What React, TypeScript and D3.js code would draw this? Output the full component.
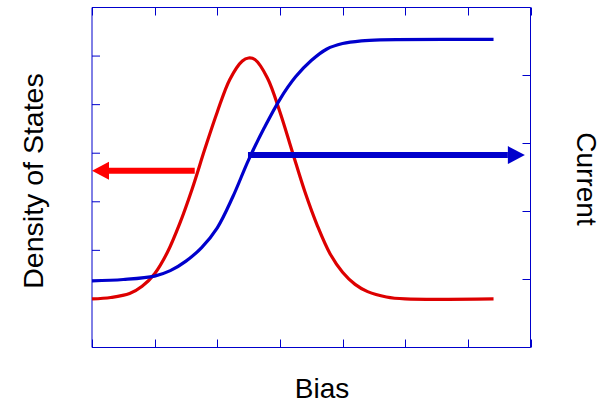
import React from "react";
import * as d3 from "d3";

// Bias axis ticks and the two vertical axes' tick positions
const biasTicks = [0, 1, 2, 3, 4, 5, 6, 7];
const dosTicks = [0, 1, 2, 3, 4, 5, 6, 7];
const currentTicks = [0, 1, 2, 3, 4, 5];

// Density of states (left axis) versus bias
const dosBias = [0, 0.3, 0.6, 0.8, 1.0, 1.2, 1.4, 1.6, 1.8, 2.0, 2.2, 2.4, 2.5, 2.6, 2.8, 3.0, 3.2, 3.4, 3.6, 3.8, 4.0, 4.2, 4.4, 4.7, 5.0, 6.41];
const dosValues = [1.0, 1.03, 1.11, 1.26, 1.52, 1.95, 2.55, 3.27, 4.08, 4.85, 5.52, 5.9, 5.96, 5.93, 5.55, 4.85, 4.02, 3.2, 2.5, 1.93, 1.55, 1.3, 1.15, 1.04, 1.0, 1.0];

// Current (right axis) versus bias
const currentBias = [0, 0.5, 1.0, 1.25, 1.5, 1.75, 2.0, 2.25, 2.5, 2.75, 3.0, 3.25, 3.5, 3.75, 4.0, 4.3, 4.6, 6.41];
const currentValues = [0.98, 1.0, 1.05, 1.13, 1.27, 1.47, 1.76, 2.22, 2.76, 3.23, 3.65, 3.98, 4.22, 4.39, 4.47, 4.51, 4.525, 4.53];

// Arrows pointing each curve to its axis
const dosArrow = { from: 1.64, to: 0, level: 3.64 };
const currentArrow = { from: 2.49, to: 6.91, level: 2.83 };

const W = 606;
const H = 403;
const left = 92;
const right = 530.5;
const top = 7.5;
const bottom = 347.5;

const RED = "#dd0000";
const BLUE = "#0000cc";
const AXIS = "#0000cc";

export default function App() {
  const x = d3.scaleLinear().domain([0, 7]).range([left, right]);
  const yL = d3.scaleLinear().domain([0, 7]).range([bottom, top]);
  const yR = d3.scaleLinear().domain([0, 5]).range([bottom, top]);

  const dosLine = d3
    .line<number>()
    .x((_, i) => x(dosBias[i]))
    .y((d) => yL(d))
    .curve(d3.curveCatmullRom.alpha(0.5))(dosValues) as string;

  const curLine = d3
    .line<number>()
    .x((_, i) => x(currentBias[i]))
    .y((d) => yR(d))
    .curve(d3.curveCatmullRom.alpha(0.5))(currentValues) as string;

  const tick = 8;
  const head = 17;
  const half = 9;

  const arrow = (x0: number, x1: number, y: number, color: string) => {
    const dir = x1 > x0 ? 1 : -1;
    const base = x1 - dir * head;
    return (
      <g>
        <line x1={x0} x2={base} y1={y} y2={y} stroke={color} strokeWidth={6} />
        <path d={`M${x1},${y} L${base},${y - half} L${base},${y + half} Z`} fill={color} />
      </g>
    );
  };

  return (
    <svg
      width={W}
      height={H}
      style={{ position: "absolute", left: 0, top: 0, background: "#fff" }}
      fontFamily="'Liberation Sans', Arial, sans-serif"
    >
      {/* frame */}
      <line x1={left} x2={right} y1={top} y2={top} stroke={AXIS} strokeWidth={1.2} />
      <line x1={left} x2={right} y1={bottom} y2={bottom} stroke={AXIS} strokeWidth={1.2} />
      <line x1={left} x2={left} y1={top} y2={bottom} stroke={AXIS} strokeWidth={1} />
      <line x1={right} x2={right} y1={top} y2={bottom} stroke={AXIS} strokeWidth={1} />

      {/* bias ticks on top and bottom, pointing inward */}
      {biasTicks.map((t) => (
        <g key={`b${t}`}>
          <line x1={Math.round(x(t)) + 0.5} x2={Math.round(x(t)) + 0.5} y1={top} y2={top + tick} stroke={AXIS} />
          <line x1={Math.round(x(t)) + 0.5} x2={Math.round(x(t)) + 0.5} y1={bottom} y2={bottom - tick} stroke={AXIS} />
        </g>
      ))}
      {/* density of states ticks on the left */}
      {dosTicks.map((t) => (
        <line key={`l${t}`} x1={left} x2={left + tick} y1={yL(t)} y2={yL(t)} stroke={AXIS} />
      ))}
      {/* current ticks on the right */}
      {currentTicks.map((t) => (
        <line key={`r${t}`} x1={right} x2={right - tick} y1={yR(t)} y2={yR(t)} stroke={AXIS} />
      ))}

      <path d={dosLine} fill="none" stroke={RED} strokeWidth={3.2} strokeLinejoin="round" />
      <path d={curLine} fill="none" stroke={BLUE} strokeWidth={3.2} strokeLinejoin="round" />

      {arrow(x(dosArrow.from), x(dosArrow.to), yL(dosArrow.level), "#ff0000")}
      {arrow(x(currentArrow.from), x(currentArrow.to), yR(currentArrow.level), BLUE)}

      <text x={322} y={398} fontSize={28} textAnchor="middle" fill="#000">
        Bias
      </text>
      <text
        transform="translate(43,181) rotate(-90)"
        fontSize={28.5}
        textAnchor="middle"
        fill="#000"
      >
        Density of States
      </text>
      <text
        transform="translate(577,179) rotate(90)"
        fontSize={28}
        textAnchor="middle"
        fill="#000"
      >
        Current
      </text>
    </svg>
  );
}
